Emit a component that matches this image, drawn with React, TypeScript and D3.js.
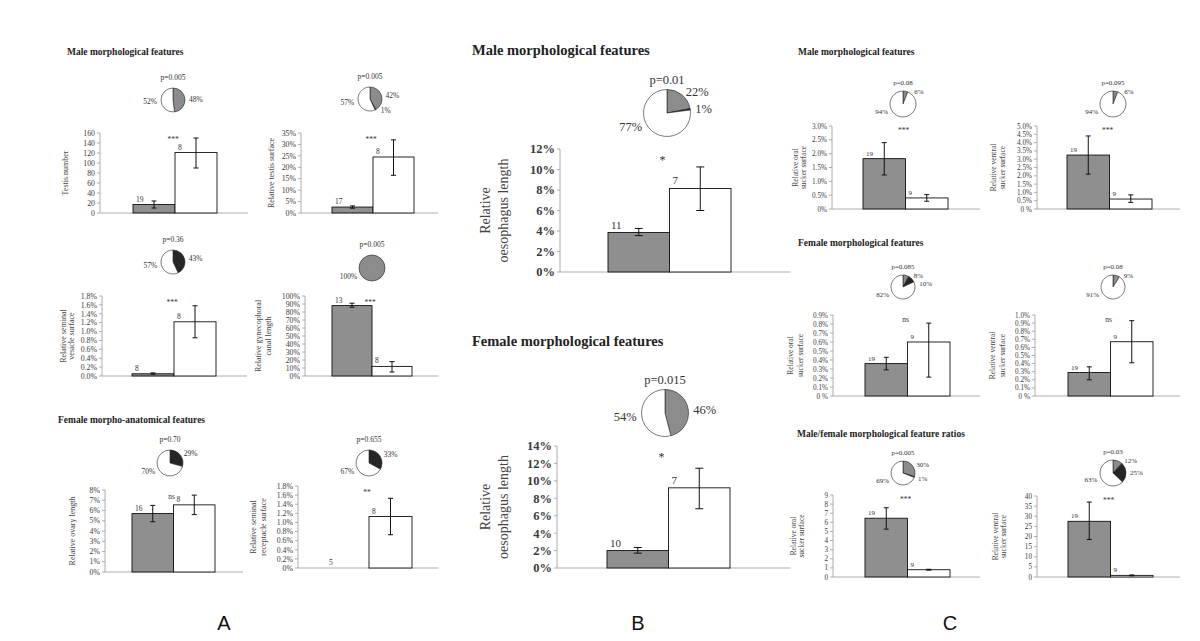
import React from 'react';
import * as d3 from 'd3';

// ---- data ----
const groups = ['group 1', 'group 2'];

const chartIds = ['A1', 'A2', 'A3', 'A4', 'A5', 'A6', 'B1', 'B2', 'C1', 'C2', 'C3', 'C4', 'C5', 'C6'];

const yTitles = [
  'Testis number',
  'Relative testis surface',
  'Relative seminal\nvesicle surface',
  'Relative gynecophoral\ncanal length',
  'Relative ovary length',
  'Relative seminal\nreceptacle surface',
  'Relative\noesophagus length',
  'Relative\noesophagus length',
  'Relative oral\nsucker surface',
  'Relative ventral\nsucker surface',
  'Relative oral\nsucker surface',
  'Relative ventral\nsucker surface',
  'Relative oral\nsucker surface',
  'Relative ventral\nsucker surface',
];

const tickLabels = [
  ['0', '20', '40', '60', '80', '100', '120', '140', '160'],
  ['0%', '5%', '10%', '15%', '20%', '25%', '30%', '35%'],
  ['0.0%', '0.2%', '0.4%', '0.6%', '0.8%', '1.0%', '1.2%', '1.4%', '1.6%', '1.8%'],
  ['0%', '10%', '20%', '30%', '40%', '50%', '60%', '70%', '80%', '90%', '100%'],
  ['0%', '1%', '2%', '3%', '4%', '5%', '6%', '7%', '8%'],
  ['0%', '0.2%', '0.4%', '0.6%', '0.8%', '1.0%', '1.2%', '1.4%', '1.6%', '1.8%'],
  ['0%', '2%', '4%', '6%', '8%', '10%', '12%'],
  ['0%', '2%', '4%', '6%', '8%', '10%', '12%', '14%'],
  ['0%', '0.5%', '1.0%', '1.5%', '2.0%', '2.5%', '3.0%'],
  ['0 %', '0.5%', '1.0%', '1.5%', '2.0%', '2.5%', '3.0%', '3.5%', '4.0%', '4.5%', '5.0%'],
  ['0 %', '0.1%', '0.2%', '0.3%', '0.4%', '0.5%', '0.6%', '0.7%', '0.8%', '0.9%'],
  ['0 %', '0.1%', '0.2%', '0.3%', '0.4%', '0.5%', '0.6%', '0.7%', '0.8%', '0.9%', '1.0%'],
  ['0', '1', '2', '3', '4', '5', '6', '7', '8', '9'],
  ['0', '5', '10', '15', '20', '25', '30', '35', '40'],
];

const grayMeans = [17, 2.6, 0.05, 88, 5.7, 0, 3.85, 2.0, 1.82, 3.25, 0.36, 0.29, 6.45, 27.5];
const grayLow = [10, 2.1, 0.04, 86, 4.9, 0, 3.55, 1.7, 1.23, 2.1, 0.29, 0.2, 5.25, 18.5];
const grayHigh = [24, 3.1, 0.07, 91, 6.5, 0, 4.25, 2.35, 2.4, 4.4, 0.43, 0.36, 7.6, 37];
const whiteMeans = [121, 24.5, 1.22, 12, 6.55, 1.13, 8.15, 9.2, 0.4, 0.6, 0.6, 0.67, 0.8, 0.8];
const whiteLow = [90, 16.5, 0.86, 5, 5.6, 0.73, 6.0, 6.8, 0.28, 0.4, 0.21, 0.41, 0.75, 0.6];
const whiteHigh = [150, 32, 1.58, 18, 7.5, 1.53, 10.25, 11.45, 0.52, 0.85, 0.81, 0.93, 0.85, 1.0];

const grayN = ['19', '17', '8', '13', '16', '5', '11', '10', '19', '19', '19', '19', '19', '19'];
const whiteN = ['8', '8', '8', '8', '8', '8', '7', '7', '9', '9', '9', '9', '9', '9'];

const sigLabels = ['***', '***', '***', '***', 'ns', '**', '*', '*', '***', '***', 'ns', 'ns', '***', '***'];
const pValues = ['p=0.005', 'p=0.005', 'p=0.36', 'p=0.005', 'p=0.70', 'p=0.655', 'p=0.01', 'p=0.015',
  'p=0.08', 'p=0.095', 'p=0.085', 'p=0.08', 'p=0.005', 'p=0.03'];

// pie shares: gray, black, white
const pieGray = [48, 42, 0, 100, 0, 0, 22, 46, 6, 6, 8, 9, 30, 12];
const pieBlack = [0, 1, 43, 0, 29, 33, 1, 0, 0, 0, 10, 0, 1, 25];
const pieWhite = [52, 57, 57, 0, 70, 67, 77, 54, 94, 94, 82, 91, 69, 63];

const sectionTitles = [
  'Male morphological features',
  'Female morpho-anatomical features',
  'Male morphological features',
  'Female morphological features',
  'Male morphological features',
  'Female morphological features',
  'Male/female morphological feature ratios',
];
const panelLetters = ['A', 'B', 'C'];

// ---- layout ----
const frames = [
  { k: 'A', ax: 100, y0: 213, yTop: 133, xEnd: 248, bx: 133, bw: 42, cx: 173, cy: 100, r: 12, yOff: [35] },
  { k: 'A', ax: 301, y0: 213, yTop: 133, xEnd: 438, bx: 332, bw: 41, cx: 370, cy: 99, r: 12, yOff: [30] },
  { k: 'A', ax: 102, y0: 376, yTop: 296, xEnd: 247, bx: 132, bw: 42, cx: 173, cy: 262, r: 12, yOff: [39, 31] },
  { k: 'A', ax: 305, y0: 376, yTop: 296, xEnd: 438, bx: 332, bw: 40, cx: 372, cy: 268, r: 13, yOff: [47, 37] },
  { k: 'A', ax: 105, y0: 572, yTop: 490, xEnd: 243, bx: 132, bw: 41.5, cx: 170, cy: 463, r: 13, yOff: [33] },
  { k: 'A', ax: 298, y0: 568, yTop: 486, xEnd: 438, bx: 326, bw: 43, cx: 369, cy: 463, r: 13, yOff: [45, 35] },
  { k: 'B', ax: 560, y0: 272, yTop: 149, xEnd: 790, bx: 608, bw: 61.5, cx: 667, cy: 113, r: 23.5, yOff: [75, 57] },
  { k: 'B', ax: 557, y0: 568, yTop: 446, xEnd: 790, bx: 607, bw: 61.5, cx: 665, cy: 413, r: 23.5, yOff: [72, 54] },
  { k: 'C', ax: 832, y0: 209, yTop: 126, xEnd: 980, bx: 863, bw: 42.5, cx: 903, cy: 104, r: 13, yOff: [37, 29] },
  { k: 'C', ax: 1037, y0: 209, yTop: 126, xEnd: 1180, bx: 1067, bw: 42.5, cx: 1113, cy: 104, r: 13, yOff: [44, 35] },
  { k: 'C', ax: 833, y0: 396, yTop: 315, xEnd: 980, bx: 865, bw: 42.5, cx: 903, cy: 287, r: 12, yOff: [43, 33] },
  { k: 'C', ax: 1035, y0: 396, yTop: 315, xEnd: 1180, bx: 1068, bw: 42.5, cx: 1113, cy: 287, r: 12, yOff: [43, 33] },
  { k: 'C', ax: 833, y0: 577, yTop: 495, xEnd: 980, bx: 865, bw: 42.5, cx: 903, cy: 473, r: 12, yOff: [40, 32] },
  { k: 'C', ax: 1037, y0: 577, yTop: 496, xEnd: 1180, bx: 1068, bw: 42.5, cx: 1113, cy: 473, r: 13, yOff: [42, 34] },
];

const styles = {
  A: { tick: 7.8, ytitle: 8, n: 7.5, sig: 7.5, pie: 7.5, cap: 2.5, pGap: 8, lp: 3, lh: 8, sigDy: 9, sigDx: -2, nDy: 3, tw: 400 },
  B: { tick: 12.5, ytitle: 14, n: 11, sig: 12, pie: 12.5, cap: 4, pGap: 6, lp: 4, lh: 18, sigDy: 15, sigDx: -7, nDy: 4, tw: 600 },
  C: { tick: 7.2, ytitle: 7.5, n: 7, sig: 7.5, pie: 7, cap: 2.5, pGap: 6, lp: 3, lh: 8, sigDy: 7, sigDx: -2, nDy: 3, tw: 400 },
};

const titlePos = [
  { x: 67, y: 55, fs: 9.5 }, { x: 58, y: 423, fs: 9.5 },
  { x: 472, y: 55, fs: 14.5 }, { x: 472, y: 346, fs: 14.5 },
  { x: 798, y: 55, fs: 9.5 }, { x: 798, y: 246, fs: 9.5 }, { x: 797, y: 437, fs: 9.5 },
];
const letterPos = [224, 638, 950];

const serif = '"Liberation Serif", "DejaVu Serif", serif';
const pieColors = ['#8c8c8c', '#262626', '#ffffff'];
const barColors = ['#8f8f8f', '#ffffff'];

function Chart({ i }: { i: number }) {
  const f = frames[i];
  const s = styles[f.k];
  const ticks = tickLabels[i].map((t) => parseFloat(t));
  const yMax = ticks[ticks.length - 1];
  const y = d3.scaleLinear().domain([0, yMax]).range([f.y0, f.yTop]);
  const x = d3.scaleBand().domain(groups).range([f.bx, f.bx + 2 * f.bw]).padding(0);
  const means = [grayMeans[i], whiteMeans[i]];
  const lows = [grayLow[i], whiteLow[i]];
  const highs = [grayHigh[i], whiteHigh[i]];
  const ns = [grayN[i], whiteN[i]];

  const pie = d3.pie<number>().sort(null).value((d) => d);
  const arcs = pie([pieGray[i], pieBlack[i], pieWhite[i]]);
  const arc = d3.arc<d3.PieArcDatum<number>>().innerRadius(0).outerRadius(f.r);

  let lastR = -Infinity;
  let lastL = -Infinity;
  const labels = arcs
    .map((a, j) => ({ a, j }))
    .filter((d) => d.a.value > 0)
    .map(({ a, j }) => {
      const mid = (a.startAngle + a.endAngle) / 2;
      const right = Math.sin(mid) > 0.01;
      const deg = (mid * 180) / Math.PI;
      const d2 = right ? Math.min(Math.max(deg, 40), 140) : Math.min(Math.max(deg, 240), 300);
      const rad = (d2 * Math.PI) / 180;
      const R = f.r + s.lp;
      let lx = f.cx + R * Math.sin(rad) + (right ? 1 : -1);
      let ly = f.cy - R * Math.cos(rad);
      if (right) {
        if (ly < lastR + s.pie * 1.15) {
          ly = lastR + s.pie * 1.15;
          lx += s.pie * 0.6;
        }
        lastR = ly;
      } else {
        if (ly < lastL + s.pie * 1.15) ly = lastL + s.pie * 1.15;
        lastL = ly;
      }
      return { key: j, x: lx, y: ly, anchor: right ? 'start' : 'end', text: `${a.value}%` };
    });

  const yMid = (f.y0 + f.yTop) / 2;
  const lines = yTitles[i].split('\n');
  const boundary = f.bx + f.bw;

  return (
    <g id={chartIds[i]} fontFamily={serif}>
      {/* pie */}
      <text x={f.cx} y={f.cy - f.r - s.pGap} textAnchor="middle" fontSize={s.pie} fill="#333">{pValues[i]}</text>
      {arcs.filter((a) => a.value > 0).map((a, j) => (
        <path key={j} d={arc(a) || ''} transform={`translate(${f.cx},${f.cy})`}
          fill={pieColors[a.index]} stroke="#222" strokeWidth={0.6} />
      ))}
      {labels.map((l) => (
        <text key={l.key} x={l.x} y={l.y} dy="0.35em" textAnchor={l.anchor} fontSize={s.pie} fill="#333">{l.text}</text>
      ))}

      {/* axes */}
      <line x1={f.ax} x2={f.ax} y1={f.y0} y2={f.yTop} stroke="#999" strokeWidth={0.8} />
      <line x1={f.ax} x2={f.xEnd} y1={f.y0} y2={f.y0} stroke="#999" strokeWidth={0.8} />
      {ticks.map((t, j) => (
        <g key={j}>
          <line x1={f.ax - 3} x2={f.ax} y1={y(t)} y2={y(t)} stroke="#999" strokeWidth={0.8} />
          <text x={f.ax - 5} y={y(t)} dy="0.35em" textAnchor="end" fontSize={s.tick} fontWeight={s.tw}
            fill="#3a3a3a">{tickLabels[i][j]}</text>
        </g>
      ))}
      {lines.map((ln, j) => (
        <text key={j} transform={`translate(${f.ax - f.yOff[j]},${yMid}) rotate(-90)`} dy="0.35em"
          textAnchor="middle" fontSize={s.ytitle} fill="#444">{ln}</text>
      ))}

      {/* bars */}
      {groups.map((g, j) => {
        const bx = x(g) as number;
        const bw = x.bandwidth();
        const top = y(means[j]);
        const cxb = bx + bw / 2;
        return (
          <g key={g}>
            {means[j] > 0 && (
              <rect x={bx} y={top} width={bw} height={f.y0 - top} fill={barColors[j]} stroke="#111" strokeWidth={0.9} />
            )}
            {highs[j] > lows[j] && (
              <g stroke="#111" strokeWidth={1}>
                <line x1={cxb} x2={cxb} y1={y(lows[j])} y2={y(highs[j])} />
                <line x1={cxb - s.cap} x2={cxb + s.cap} y1={y(lows[j])} y2={y(lows[j])} />
                <line x1={cxb - s.cap} x2={cxb + s.cap} y1={y(highs[j])} y2={y(highs[j])} />
              </g>
            )}
            <text x={bx + 3} y={top - s.nDy} fontSize={s.n} fill="#333">{ns[j]}</text>
          </g>
        );
      })}
      <text x={boundary + s.sigDx} y={f.yTop + s.sigDy} textAnchor="middle" fontSize={s.sig} fill="#333">{sigLabels[i]}</text>
    </g>
  );
}

export default function App() {
  return (
    <svg width={1200} height={641} style={{ position: 'absolute', left: 0, top: 0, background: '#fff' }}>
      <rect width={1200} height={641} fill="#fff" />
      {sectionTitles.map((t, i) => (
        <text key={i} x={titlePos[i].x} y={titlePos[i].y} fontSize={titlePos[i].fs} fontWeight="bold"
          fontFamily={serif} fill="#222">{t}</text>
      ))}
      {frames.map((_, i) => <Chart key={i} i={i} />)}
      {panelLetters.map((l, i) => (
        <text key={l} x={letterPos[i]} y={630} textAnchor="middle" fontSize={20}
          fontFamily='"Liberation Sans", Arial, sans-serif' fill="#111">{l}</text>
      ))}
    </svg>
  );
}
